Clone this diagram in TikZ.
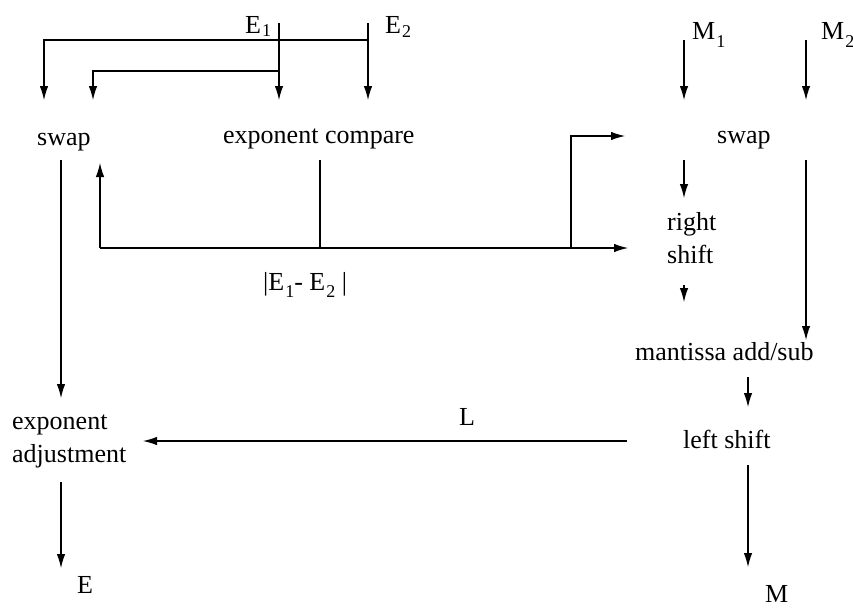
\documentclass[tikz,border=0pt]{standalone}
\usepackage{fontspec}
\setmainfont{Liberation Serif}
\usetikzlibrary{arrows.meta}
\newcommand\lowsub[2]{\kern1pt\raisebox{-#1pt}{\fontsize{18}{18}\selectfont #2}}
\begin{document}
\begin{tikzpicture}[x=1pt,y=-1pt,
  lbl/.style={inner sep=0pt,anchor=base west,font=\fontsize{26}{33}\selectfont},
  conn/.style={line width=1.1pt},
  arr/.style={conn,-{Latex[length=14pt,width=8.5pt]}}]
\useasboundingbox (0,0) rectangle (853,608);
% labels
\node[lbl] (E1) at (245,33) {E\lowsub{3}{1}};
\node[lbl] (E2) at (385,33) {E\lowsub{4}{2}};
\node[lbl] (M1) at (692,39) {M\lowsub{8}{1}};
\node[lbl] (M2) at (821,39) {M\lowsub{8}{2}};
\node[lbl] (swapL) at (37,145) {swap};
\node[lbl] (cmp) at (223,143) {exponent compare};
\node[lbl] (swapR) at (717,143) {swap};
\node[lbl,align=left] (rs) at (667,263) {right\\shift};
\node[lbl] (diff) at (263,290) {|E\lowsub{7}{1}- E\lowsub{7}{2} |};
\node[lbl] (mas) at (635,360) {mantissa add/sub};
\node[lbl] (L) at (459,425) {L};
\node[lbl] (ls) at (683,448) {left shift};
\node[lbl,align=left] (ea) at (12,462) {exponent\\adjustment};
\node[lbl] (E) at (77,593) {E};
\node[lbl] (M) at (765,602) {M};
% connector end points
\coordinate (e1s) at (279,23);  \coordinate (e1t) at (279,100);
\coordinate (e2s) at (368,23);  \coordinate (e2t) at (368,100);
\coordinate (e2b) at (368,40);  \coordinate (sw1) at (44,100);
\coordinate (e1b) at (279,71);  \coordinate (sw2) at (93,100);
\coordinate (swd) at (61,160);  \coordinate (eat) at (61,398);
\coordinate (cmpd) at (320,160); \coordinate (cmpj) at (320,248);
\coordinate (hl) at (100,248);  \coordinate (swu) at (100,163);
\coordinate (hr) at (628,248);  \coordinate (br) at (571,248);
\coordinate (brt) at (571,136); \coordinate (swRin) at (625,136);
\coordinate (m1s) at (684,40);  \coordinate (m1t) at (684,100);
\coordinate (m2s) at (806,40);  \coordinate (m2t) at (806,100);
\coordinate (swRd) at (684,160); \coordinate (rst) at (684,198);
\coordinate (m2d) at (806,160); \coordinate (m2e) at (806,340);
\coordinate (rsd) at (684,285); \coordinate (mast) at (684,302);
\coordinate (masd) at (748,377); \coordinate (lst) at (748,407);
\coordinate (lsl) at (627,441); \coordinate (ear) at (143,441);
\coordinate (lsd) at (748,465); \coordinate (Mt) at (748,567);
\coordinate (ead) at (61,482);  \coordinate (Et) at (61,568);
% connectors
\draw[arr] (e1s) -- (e1t);
\draw[arr] (e2s) -- (e2t);
\draw[arr] (e2b) -| (sw1);
\draw[arr] (e1b) -| (sw2);
\draw[arr] (swd) -- (eat);
\draw[conn] (cmpd) -- (cmpj);
\draw[arr] (hl) -- (hr);
\draw[arr] (hl) -- (swu);
\draw[arr] (br) |- (swRin);
\draw[arr] (m1s) -- (m1t);
\draw[arr] (m2s) -- (m2t);
\draw[arr] (swRd) -- (rst);
\draw[arr] (m2d) -- (m2e);
\draw[arr] (rsd) -- (mast);
\draw[arr] (masd) -- (lst);
\draw[arr] (lsl) -- (ear);
\draw[arr] (lsd) -- (Mt);
\draw[arr] (ead) -- (Et);
\end{tikzpicture}
\end{document}
